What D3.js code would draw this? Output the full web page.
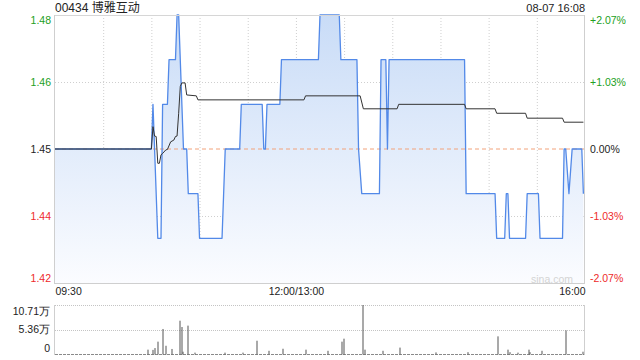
<!DOCTYPE html>
<html><head><meta charset="utf-8">
<script src="https://cdn.jsdelivr.net/npm/d3@7/dist/d3.min.js"></script>
<style>
html,body{margin:0;padding:0;background:#fff;}
svg{display:block;font-family:"Liberation Sans","Noto Sans CJK SC",Arial,sans-serif;}
</style></head>
<body><svg id="c" width="640" height="360"></svg>
<script>
// ---- data ----
const title = "00434 博雅互动";
const stamp = "08-07 16:08";
const prevClose = 1.45;
const priceTicks = [1.48, 1.465, 1.45, 1.435, 1.42];
const priceTickLabels = ["1.48", "1.46", "1.45", "1.44", "1.42"];
const pctTickLabels = ["+2.07%", "+1.03%", "0.00%", "-1.03%", "-2.07%"];
const timeTickMinutes = [0, 150, 330];
const timeTickLabels = ["09:30", "12:00/13:00", "16:00"];
// price line vertices (minutes since 09:30, lunch removed)
const priceMinutes = [0,60,61,64,66,67,70,71,75,76,77,80,82,83,89,90,104,106,115,116,129,130,131,132,140,141,164,165,177,178,188,189,191,202,203,206,207,208,255,256,274,275,280,281,282,283,293,294,301,302,316,317,318,320,322,328,329];
const priceValues  = [1.45,1.45,1.46,1.43,1.43,1.46,1.46,1.47,1.47,1.48,1.48,1.45,1.45,1.44,1.44,1.43,1.43,1.45,1.45,1.46,1.46,1.45,1.45,1.46,1.46,1.47,1.47,1.48,1.48,1.47,1.47,1.45,1.44,1.44,1.47,1.47,1.45,1.47,1.47,1.44,1.44,1.43,1.43,1.44,1.44,1.43,1.43,1.44,1.44,1.43,1.43,1.45,1.45,1.44,1.45,1.45,1.44];
// average price line vertices
const avgMinutes = [0,60,61,62,63,64,65,66,67,69,70,72,74,75,76,77,78,79,81,82,88,89,155,156,190,192,213,214,255,256,274,275,293,294,316,317,329];
const avgValues  = [1.45,1.45,1.455,1.4529,1.4528,1.4468,1.4468,1.4487,1.449,1.4498,1.4499,1.4516,1.452,1.4528,1.4529,1.458,1.464,1.4648,1.4648,1.4621,1.4619,1.461,1.461,1.4619,1.4619,1.459,1.459,1.46,1.46,1.459,1.459,1.458,1.458,1.4569,1.4569,1.456,1.456];
// volume bars
const volMinutes = [58,61,62,64,67,69,73,78,79,80,83,87,106,117,126,133,142,156,170,179,180,192,193,204,215,237,257,276,282,283,288,295,296,303,318,329];
const volValues  = [9500,9000,13000,27000,54700,18000,11000,72800,59000,5000,62000,3000,3000,3000,29000,7000,11500,9500,7000,27000,33500,107100,9500,7000,14000,3500,4000,38600,9500,4000,3000,9500,4000,7000,51700,5000];
const volTicks = [107100, 53550, 0];
const volTickLabels = ["10.71万", "5.36万", "0"];

// ---- layout ----
const L = 55, R = 585, T = 15, B = 283, VT = 305, VB = 354;
const svg = d3.select("#c");
const x = d3.scaleLinear().domain([0, 330]).range([L, R]);
const y = d3.scaleLinear().domain([1.42, 1.48]).range([B, T]);
const yv = d3.scaleLinear().domain([0, 107100]).range([VB, VT]);

const GREEN = "#22a022", RED = "#ee2a2a", DARK = "#222";
const colorFor = i => i < 2 ? GREEN : (i === 2 ? DARK : RED);

// gradient
const defs = svg.append("defs");
const g = defs.append("linearGradient").attr("id","fillg").attr("gradientUnits","userSpaceOnUse")
  .attr("x1",0).attr("y1",T).attr("x2",0).attr("y2",B);
g.append("stop").attr("offset","0").attr("stop-color","#c9dcf7");
g.append("stop").attr("offset","1").attr("stop-color","#fbfcff");

// title
svg.append("text").attr("x", L).attr("y", 8).attr("dy","0.35em").attr("font-size", 12).attr("fill","#222").text(title);
svg.append("text").attr("x", R).attr("y", 8).attr("dy","0.35em").attr("text-anchor","end").attr("font-size", 11).attr("fill","#222").text(stamp);

// grid verticals every 30 min
const grid = svg.append("g");
d3.range(30, 330, 30).forEach(m => {
  grid.append("line").attr("x1", x(m)+0.5).attr("x2", x(m)+0.5).attr("y1", T).attr("y2", B)
    .attr("stroke","#cfcfcf").attr("stroke-dasharray","1,2");
});
[1.465, 1.435].forEach(v => {
  grid.append("line").attr("x1", L).attr("x2", R).attr("y1", Math.round(y(v))+0.5).attr("y2", Math.round(y(v))+0.5)
    .attr("stroke","#cfcfcf").attr("stroke-dasharray","1,2");
});

// area + line
const pts = priceMinutes.map((m,i)=>[m, priceValues[i]]);
svg.append("path").datum(pts)
  .attr("d", d3.area().x(d=>x(d[0])).y0(B).y1(d=>y(d[1])))
  .attr("fill","url(#fillg)");
// prev close dashed
svg.append("line").attr("x1", L).attr("x2", R).attr("y1", y(prevClose)).attr("y2", y(prevClose))
  .attr("stroke","#f2a27a").attr("stroke-dasharray","4,3").attr("stroke-width",1);
svg.append("path").datum(pts)
  .attr("d", d3.line().x(d=>x(d[0])).y(d=>y(d[1])))
  .attr("fill","none").attr("stroke","#5289e8").attr("stroke-width",1.3).attr("stroke-linejoin","round");
const avg = avgMinutes.map((m,i)=>[m, avgValues[i]]);
svg.append("path").datum(avg)
  .attr("d", d3.line().x(d=>x(d[0])).y(d=>y(d[1])))
  .attr("fill","none").attr("stroke","#333").attr("stroke-width",1);

// borders
svg.append("line").attr("x1",L).attr("x2",R).attr("y1",T+0.5).attr("y2",T+0.5).attr("stroke","#d6d6d6");
svg.append("line").attr("x1",L).attr("x2",R).attr("y1",B+0.5).attr("y2",B+0.5).attr("stroke","#cfcfcf");
svg.append("line").attr("x1",L-0.5).attr("x2",L-0.5).attr("y1",T).attr("y2",B+1).attr("stroke","#cfcfcf");
svg.append("line").attr("x1",R-0.5).attr("x2",R-0.5).attr("y1",T).attr("y2",B+1).attr("stroke","#cfcfcf");

// left axis
const yAxisL = d3.axisLeft(y).tickValues(priceTicks).tickSize(0).tickPadding(4)
  .tickFormat((d,i)=>priceTickLabels[i]);
const gl = svg.append("g").attr("transform",`translate(${L},0)`).call(yAxisL);
gl.select(".domain").remove();
gl.selectAll("text").attr("font-size",10.5).attr("font-family",null)
  .attr("fill",(d,i)=>colorFor(i))
  .attr("dy",(d,i)=> i===0 ? "0.85em" : (i===4 ? "-0.1em" : "0.35em"));
// right axis
const yAxisR = d3.axisRight(y).tickValues(priceTicks).tickSize(0).tickPadding(5)
  .tickFormat((d,i)=>pctTickLabels[i]);
const gr = svg.append("g").attr("transform",`translate(${R},0)`).call(yAxisR);
gr.select(".domain").remove();
gr.selectAll("text").attr("font-size",10.5).attr("font-family",null)
  .attr("fill",(d,i)=>colorFor(i))
  .attr("dy",(d,i)=> i===0 ? "0.85em" : (i===4 ? "-0.1em" : "0.35em"));

// watermark
svg.append("text").attr("x", 573).attr("y", 279).attr("dy","0.35em").attr("text-anchor","end")
  .attr("font-size",10.5).attr("fill","#d4d4d4").text("sina.com");

// time axis
const xAxis = d3.axisBottom(x).tickValues(timeTickMinutes).tickSize(0).tickPadding(5)
  .tickFormat((d,i)=>timeTickLabels[i]);
const gx = svg.append("g").attr("transform",`translate(0,${B})`).call(xAxis);
gx.select(".domain").remove();
gx.selectAll("text").attr("font-size",10.5).attr("font-family",null).attr("fill","#222")
  .attr("text-anchor",(d,i)=> i===0 ? "start" : (i===2 ? "end" : "middle"));

// volume panel
[VT, (VT+VB)/2].forEach(v=>{
  svg.append("line").attr("x1",L).attr("x2",R).attr("y1",Math.round(yv(v===VT?107100:53550))+0.5).attr("y2",Math.round(yv(v===VT?107100:53550))+0.5)
    .attr("stroke","#c4c4c4").attr("stroke-dasharray","1,1");
});
svg.append("line").attr("x1",L).attr("x2",R).attr("y1",VB+0.5).attr("y2",VB+0.5)
  .attr("stroke","#8a8a8a").attr("stroke-dasharray","3,1");
svg.append("line").attr("x1",L-0.5).attr("x2",L-0.5).attr("y1",VT).attr("y2",VB+1).attr("stroke","#cfcfcf");
svg.append("line").attr("x1",R-0.5).attr("x2",R-0.5).attr("y1",VT).attr("y2",VB+1).attr("stroke","#cfcfcf");
svg.append("g").selectAll("rect").data(volMinutes.map((m,i)=>[m, volValues[i]])).join("rect")
  .attr("x", d=>Math.round(x(d[0]))-0.5).attr("width",1)
  .attr("y", d=>yv(d[1])).attr("height", d=>VB+0.5-yv(d[1]))
  .attr("fill","#555");
const yAxisV = d3.axisLeft(yv).tickValues(volTicks).tickSize(0).tickPadding(5)
  .tickFormat((d,i)=>volTickLabels[i]);
const gv = svg.append("g").attr("transform",`translate(${L},0)`).call(yAxisV);
gv.select(".domain").remove();
gv.selectAll("text").attr("font-size",10.5).attr("font-family",null).attr("fill","#222")
  .attr("dy",(d,i)=> i===0 ? "0.95em" : (i===2 ? "-0.2em" : "0.25em"));
</script></body></html>
